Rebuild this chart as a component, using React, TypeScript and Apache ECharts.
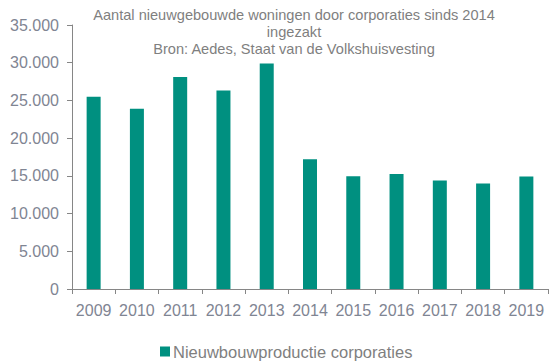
import React, { useEffect, useRef } from "react";
import * as echarts from "echarts";

const years = ["2009", "2010", "2011", "2012", "2013", "2014", "2015", "2016", "2017", "2018", "2019"];
const nieuwbouw = [25500, 23900, 28100, 26300, 29900, 17200, 14950, 15250, 14400, 14000, 14900];
const seriesName = "Nieuwbouwproductie corporaties";
const titleText = "Aantal nieuwgebouwde woningen door corporaties sinds 2014\ningezakt\nBron: Aedes, Staat van de Volkshuisvesting";

const FONT = "'Liberation Sans', Arial, sans-serif";

export default function App() {
  const ref = useRef<HTMLDivElement>(null);
  useEffect(() => {
    if (!ref.current) return;
    const chart = echarts.init(ref.current, undefined, { renderer: "svg" });
    chart.setOption({
      animation: false,
      textStyle: { fontFamily: FONT },
      title: {
        text: titleText,
        left: 289,
        top: 1,
        textAlign: "center",
        textStyle: {
          fontFamily: FONT,
          fontSize: 14.6,
          fontWeight: "normal",
          color: "#7f7f7f",
          lineHeight: 17,
        },
      },
      legend: {
        data: [seriesName],
        left: 155,
        top: 338,
        icon: "rect",
        itemWidth: 10,
        itemHeight: 10,
        itemGap: 4,
        textStyle: { fontFamily: FONT, fontSize: 16.5, color: "#7f7f7f", padding: [0, 0, 0, -2] },
      },
      grid: { left: 72, right: 4, top: 25, bottom: 74, containLabel: false },
      xAxis: {
        type: "category",
        data: years,
        boundaryGap: true,
        axisLine: { show: true, lineStyle: { color: "#868686", width: 1 } },
        axisTick: { show: true, length: 5, lineStyle: { color: "#868686" } },
        axisLabel: { fontFamily: FONT, fontSize: 16, color: "#7f8593", margin: 13, interval: 0 },
        splitLine: { show: false },
      },
      yAxis: {
        type: "value",
        min: 0,
        max: 35000,
        interval: 5000,
        axisLine: { show: true, lineStyle: { color: "#868686", width: 1 } },
        axisTick: { show: true, length: 5, lineStyle: { color: "#868686" } },
        axisLabel: {
          fontFamily: FONT,
          fontSize: 16,
          color: "#7f8593",
          margin: 13,
          formatter: (v: number) => (v === 0 ? "0" : v.toLocaleString("nl-NL")),
        },
        splitLine: { show: false },
      },
      series: [
        {
          name: seriesName,
          type: "bar",
          data: nieuwbouw,
          barWidth: 14,
          itemStyle: { color: "#009080" },
        },
      ],
    });
    return () => chart.dispose();
  }, []);
  return <div ref={ref} style={{ width: 552, height: 363, position: "absolute", left: 0, top: 0 }} />;
}
